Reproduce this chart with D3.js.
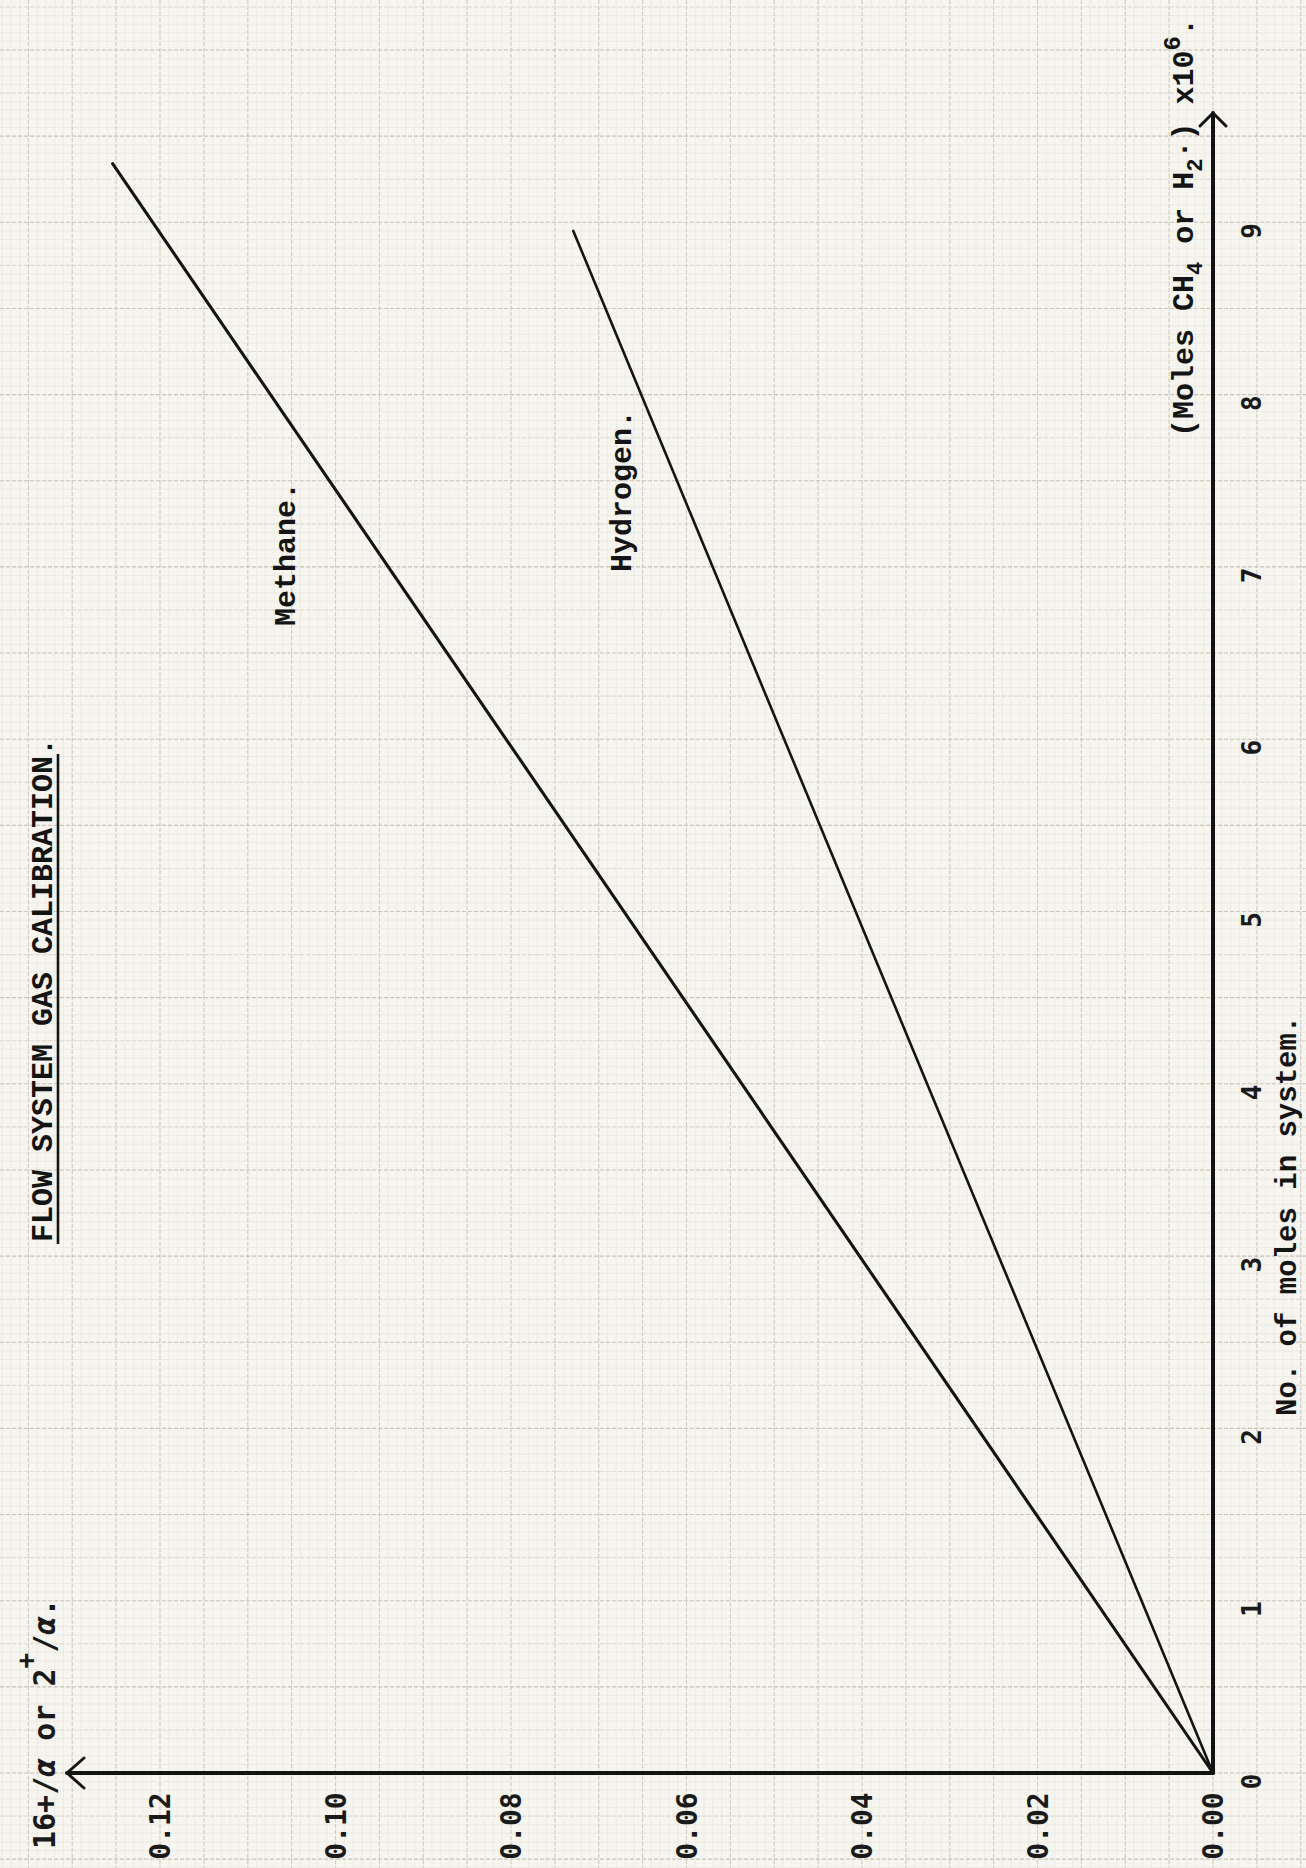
<!DOCTYPE html>
<html>
<head>
<meta charset="utf-8">
<title>Flow system gas calibration</title>
<script src="https://cdn.jsdelivr.net/npm/d3@7"></script>
<style>
  html, body { margin: 0; padding: 0; background: #f6f5ef; }
  svg { display: block; }
  .type { font-family: "Liberation Mono", "DejaVu Sans Mono", monospace; font-weight: bold; fill: #141414; }
  .gothic { font-family: "DejaVu Sans Mono", "Liberation Mono", monospace; font-weight: bold; fill: #1a1a1a; }
</style>
</head>
<body>
<svg id="chart" width="1306" height="1868"></svg>
<script>
// ---- data -------------------------------------------------------------
// ratio 16+/alpha (methane) or 2+/alpha (hydrogen) against moles x 10^6
const valueTicks = [0.00, 0.02, 0.04, 0.06, 0.08, 0.10, 0.12];
const moleTicks  = [0, 1, 2, 3, 4, 5, 6, 7, 8, 9];

const methaneMoles  = [0, 9.34];
const methaneRatio  = [0, 0.1254];
const hydrogenMoles = [0, 8.95];
const hydrogenRatio = [0, 0.0729];

// ---- layout -----------------------------------------------------------
// The sheet is typed sideways: the ratio axis runs along the bottom edge
// (growing to the left) and the moles axis runs up the right edge.
const W = 1306, H = 1868;
const originX = 1213, originY = 1773;

const svg = d3.select("#chart");

const x = d3.scaleLinear().domain([0, 0.12]).range([originX, 160]);   // ratio -> horizontal
const y = d3.scaleLinear().domain([0, 9]).range([originY, 222.3]);    // moles -> vertical

// ---- graph paper ------------------------------------------------------
const paper = svg.append("g").attr("class", "paper");
paper.append("rect").attr("width", W).attr("height", H).attr("fill", "#f6f5ef");

const vMin = x.invert(W), vMax = x.invert(0);
const mMin = y.invert(H), mMax = y.invert(0);

// millimetre lines
const fineV = d3.range(Math.ceil(vMin / 0.001), Math.floor(vMax / 0.001) + 1).map(k => k * 0.001);
const fineM = d3.range(Math.ceil(mMin / 0.05), Math.floor(mMax / 0.05) + 1).map(k => k * 0.05);
paper.selectAll("line.fv").data(fineV).join("line").attr("class", "fv")
  .attr("x1", d => x(d)).attr("x2", d => x(d)).attr("y1", 0).attr("y2", H)
  .attr("stroke", "#eae7df").attr("stroke-width", 0.7);
paper.selectAll("line.fm").data(fineM).join("line").attr("class", "fm")
  .attr("y1", d => y(d)).attr("y2", d => y(d)).attr("x1", 0).attr("x2", W)
  .attr("stroke", "#eae7df").attr("stroke-width", 0.7);

// centimetre lines
const midV = d3.range(Math.ceil(vMin / 0.005), Math.floor(vMax / 0.005) + 1).map(k => k * 0.005);
const midM = d3.range(Math.ceil(mMin / 0.25), Math.floor(mMax / 0.25) + 1).map(k => k * 0.25);
paper.selectAll("line.mv").data(midV).join("line").attr("class", "mv")
  .attr("x1", d => x(d)).attr("x2", d => x(d)).attr("y1", 0).attr("y2", H)
  .attr("stroke", "#d3cec4").attr("stroke-width", 1.1).attr("stroke-dasharray", "4,2");
paper.selectAll("line.mm").data(midM).join("line").attr("class", "mm")
  .attr("y1", d => y(d)).attr("y2", d => y(d)).attr("x1", 0).attr("x2", W)
  .attr("stroke", d => Math.abs(d * 2 - Math.round(d * 2)) < 1e-6 ? "#cbc6ba" : "#e0dcd3")
  .attr("stroke-width", 1.1).attr("stroke-dasharray", "4,2");

// ---- axes -------------------------------------------------------------
const ink = "#141414";

// ratio axis with its tick labels, set sideways below the line
const xAxis = svg.append("g")
  .attr("transform", `translate(0,${originY})`)
  .call(d3.axisBottom(x).tickValues(valueTicks).tickFormat(d3.format(".2f")).tickSize(0));
xAxis.select(".domain").remove();
xAxis.selectAll("text")
  .attr("class", "gothic")
  .attr("x", 0).attr("y", 0).attr("dy", "0.35em")
  .attr("text-anchor", "middle")
  .attr("transform", "translate(0,53) rotate(-90)")
  .style("font-size", "28px");

// moles axis with its tick labels to the right of the line
const yAxis = svg.append("g")
  .attr("transform", `translate(${originX},0)`)
  .call(d3.axisRight(y).tickValues(moleTicks).tickFormat(d3.format("d")).tickSize(0));
yAxis.select(".domain").remove();
yAxis.selectAll("text")
  .attr("class", "gothic")
  .attr("x", 0).attr("y", 0).attr("dy", "0.35em")
  .attr("text-anchor", "middle")
  .attr("transform", "translate(39,8) rotate(-90)")
  .style("font-size", "26px");

// axis lines with open arrow heads
const axisG = svg.append("g").attr("fill", "none").attr("stroke", ink)
  .attr("stroke-linecap", "round").attr("stroke-linejoin", "round");
const arrowLeftX = 67, arrowTopY = 113;
axisG.append("path").attr("stroke-width", 4)
  .attr("d", `M${originX},${originY}H${arrowLeftX}`);
axisG.append("path").attr("stroke-width", 3)
  .attr("d", `M${arrowLeftX + 17},${originY - 15}L${arrowLeftX},${originY}L${arrowLeftX + 17},${originY + 15}`);
axisG.append("path").attr("stroke-width", 4)
  .attr("d", `M${originX},${originY}V${arrowTopY}`);
axisG.append("path").attr("stroke-width", 3)
  .attr("d", `M${originX - 13},${arrowTopY + 13}L${originX},${arrowTopY}L${originX + 13},${arrowTopY + 13}`);

// ---- calibration lines -------------------------------------------------
const line = d3.line().x(d => x(d[1])).y(d => y(d[0]));
svg.append("path")
  .datum(d3.zip(methaneMoles, methaneRatio))
  .attr("d", line).attr("fill", "none").attr("stroke", ink)
  .attr("stroke-width", 3.1).attr("stroke-linecap", "round");
svg.append("path")
  .datum(d3.zip(hydrogenMoles, hydrogenRatio))
  .attr("d", line).attr("fill", "none").attr("stroke", ink)
  .attr("stroke-width", 2.6).attr("stroke-linecap", "round");

// ---- sideways text ------------------------------------------------------
function sideways(px, py, cls, size) {
  return svg.append("text")
    .attr("class", cls)
    .attr("transform", `translate(${px},${py}) rotate(-90)`)
    .attr("text-anchor", "start")
    .style("font-size", size + "px");
}

// title, underlined
const title = sideways(52, 1242, "type", 30).text("FLOW SYSTEM GAS CALIBRATION.");
const titleLen = title.node().getComputedTextLength();
svg.append("line")
  .attr("x1", 58).attr("x2", 58)
  .attr("y1", 1244).attr("y2", 1244 - titleLen + 14)
  .attr("stroke", ink).attr("stroke-width", 2.6);

// series labels
sideways(295, 626, "type", 30).text("Methane.");
sideways(631, 572, "type", 30).text("Hydrogen.");

// axis captions
sideways(1296, 1416, "type", 29).text("No. of moles in system.");

const molesCap = sideways(1193, 437, "type", 30);
molesCap.append("tspan").text("(Moles CH");
molesCap.append("tspan").attr("dy", 9).style("font-size", "22px").text("4");
molesCap.append("tspan").attr("dy", -9).text(" or H");
molesCap.append("tspan").attr("dy", 9).style("font-size", "22px").text("2");
molesCap.append("tspan").attr("dy", -9).text("·) x10");
molesCap.append("tspan").attr("dy", -13).style("font-size", "24px").text("6");
molesCap.append("tspan").attr("dy", 13).text(".");

const ratioCap = sideways(55, 1849, "gothic", 30);
ratioCap.append("tspan").text("16+/");
ratioCap.append("tspan").style("font-style", "italic").text("α");
ratioCap.append("tspan").text(" or 2");
ratioCap.append("tspan").attr("dy", -20).style("font-size", "26px").text("+");
ratioCap.append("tspan").attr("dy", 20).text("/");
ratioCap.append("tspan").style("font-style", "italic").text("α");
ratioCap.append("tspan").text(".");
</script>
</body>
</html>
